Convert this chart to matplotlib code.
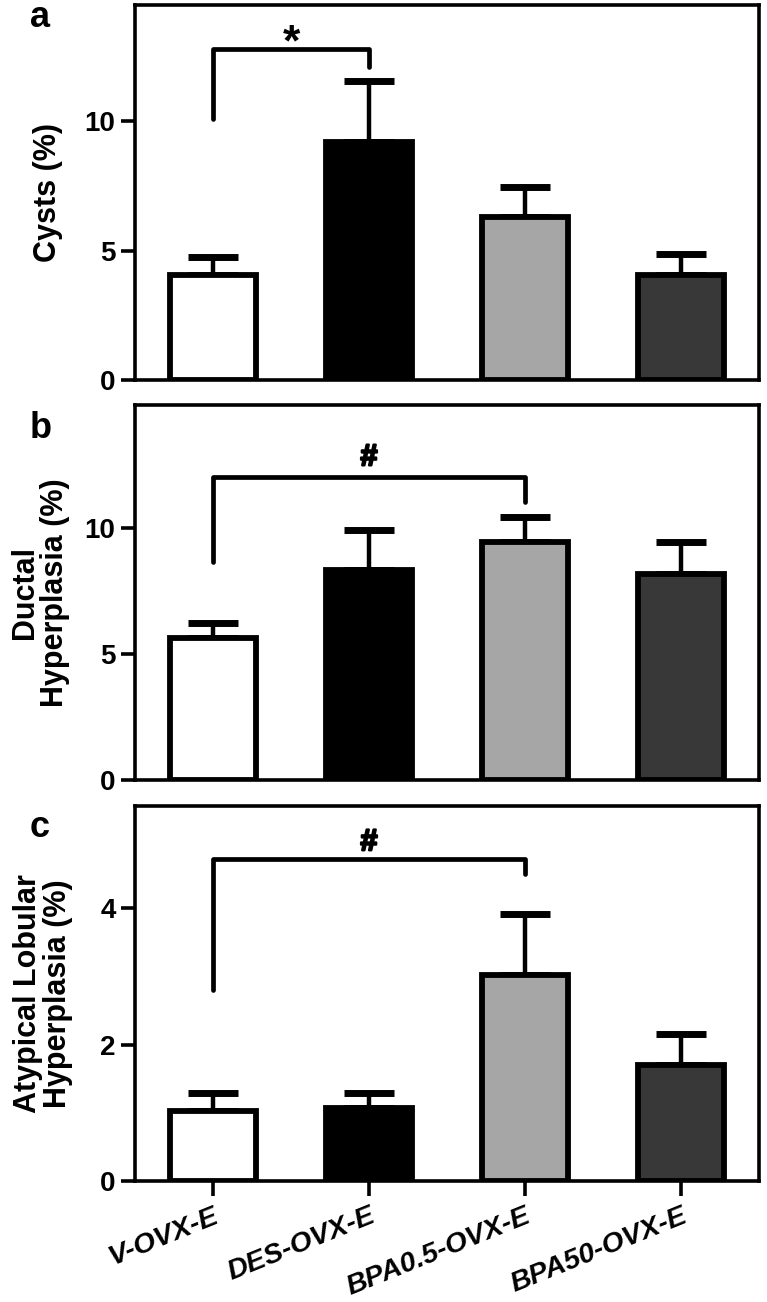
import matplotlib.pyplot as plt
import matplotlib.patheffects as pe
import numpy as np

plt.rcParams['font.family'] = ['Liberation Sans', 'DejaVu Sans']
plt.rcParams['font.weight'] = 'bold'

groups = ['V-OVX-E', 'DES-OVX-E', 'BPA0.5-OVX-E', 'BPA50-OVX-E']
colors = ['#ffffff', '#000000', '#a6a6a6', '#383838']

cysts = [4.05, 9.2, 6.3, 4.05]
cysts_err = [0.7, 2.35, 1.15, 0.82]

ductal = [5.65, 8.35, 9.45, 8.2]
ductal_err = [0.6, 1.6, 1.0, 1.25]

alh = [1.03, 1.07, 3.02, 1.7]
alh_err = [0.26, 0.22, 0.89, 0.46]

panels = [
    dict(vals=cysts, err=cysts_err, ylim=14.5, ticks=[0, 5, 10], label='Cysts (%)', lx=-0.139,
         letter='a', brk=(10.1, 12.8, 12.1), mark='*', mark_x=0.5, mark_y=12.55, pair=(0, 1)),
    dict(vals=ductal, err=ductal_err, ylim=14.9, ticks=[0, 5, 10], label='Ductal\nHyperplasia (%)',
         lx=-0.153, letter='b', brk=(8.65, 12.05, 11.05), mark='#', mark_x=1.0, mark_y=12.5, pair=(0, 2)),
    dict(vals=alh, err=alh_err, ylim=5.5, ticks=[0, 2, 4], label='Atypical Lobular\nHyperplasia (%)',
         lx=-0.147, letter='c', brk=(2.8, 4.72, 4.5), mark='#', mark_x=1.0, mark_y=4.85, pair=(0, 2)),
]

fig = plt.figure(figsize=(7.67, 13.02), dpi=100)
W, H = 767, 1302
boxes = [(5, 380), (405, 780), (806, 1181)]
letter_y = [27, 438, 837]
x = np.arange(len(groups))

for i, p in enumerate(panels):
    top, bot = boxes[i]
    ax = fig.add_axes([135 / W, 1 - bot / H, (759 - 135) / W, (bot - top) / H])
    ax.bar(x, p['vals'], width=0.55, color=colors, edgecolor='black', linewidth=4.2, zorder=3)
    ax.errorbar(x, p['vals'], yerr=[np.zeros(4), p['err']], fmt='none', ecolor='black',
                elinewidth=3.2, capsize=18, capthick=5, zorder=2)
    a, b = p['pair']
    y0, yh, y1 = p['brk']
    ax.plot([a, a, b, b], [y0, yh, yh, y1], color='black', lw=3.4,
            solid_capstyle='round', solid_joinstyle='round', zorder=4)
    if p['mark'] == '*':
        ax.text(p['mark_x'], p['mark_y'], '*', ha='center', va='baseline', fontsize=32,
                fontweight='bold')
    else:
        ax.text(p['mark_x'], p['mark_y'], '#', ha='center', va='baseline', fontsize=22,
                fontweight='bold',
                path_effects=[pe.withStroke(linewidth=1.6, foreground='black')])
    ax.set_xlim(-0.5, 3.5)
    ax.set_ylim(0, p['ylim'])
    ax.set_yticks(p['ticks'])
    ax.tick_params(axis='y', direction='out', length=10, width=2.6, labelsize=20, pad=4)
    for s in ax.spines.values():
        s.set_linewidth(2.6)
    ax.set_ylabel(p['label'], fontsize=22, fontweight='bold', linespacing=1.0, va='center')
    ax.yaxis.set_label_coords(p['lx'], 0.5)
    if i < 2:
        ax.set_xticks([])
    else:
        ax.set_xticks(x)
        ax.set_xticklabels(groups, rotation=22, ha='right', va='top', rotation_mode='anchor',
                           fontsize=20.5, fontweight='bold', fontstyle='italic')
        ax.tick_params(axis='x', direction='out', length=11, width=2.6, pad=5)
    fig.text(30 / W, 1 - letter_y[i] / H, p['letter'], fontsize=26, fontweight='bold',
             ha='left', va='baseline')

fig.savefig('out.png', dpi=100)
